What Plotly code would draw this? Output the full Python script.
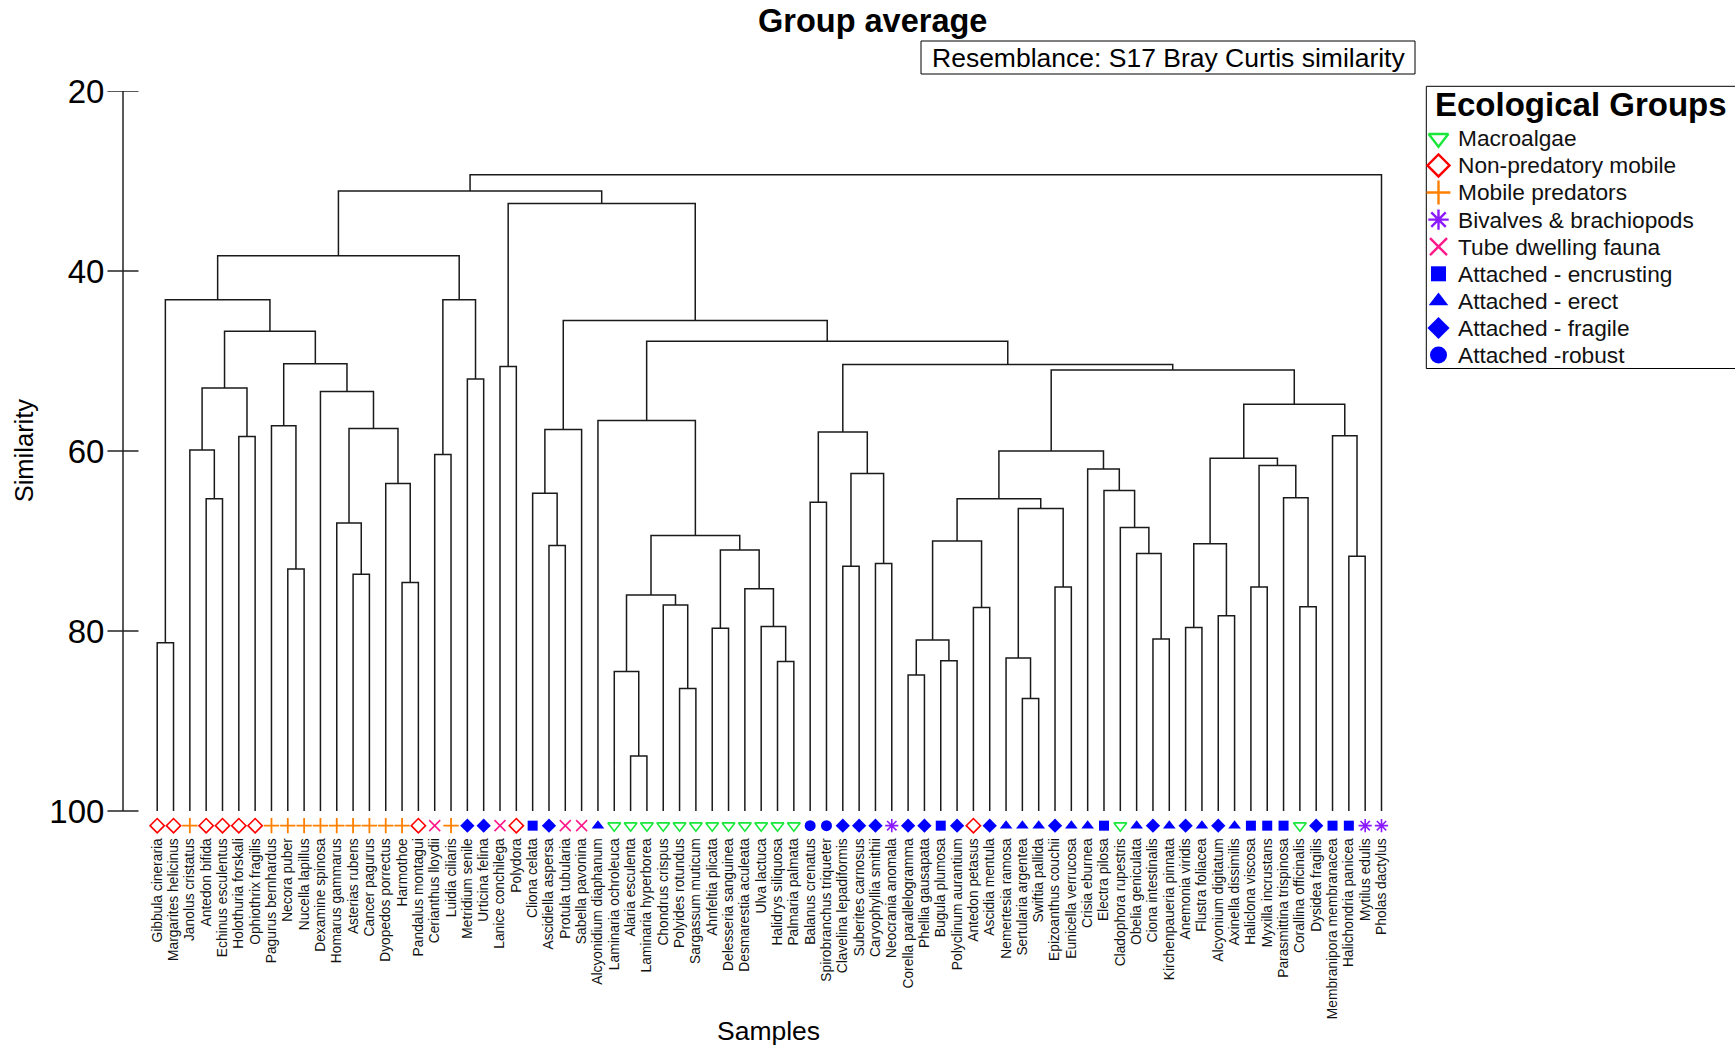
import plotly.graph_objects as go

# ---------------- data ----------------
leaf_names = [
    "Gibbula cineraria", "Margarites helicinus", "Janolus cristatus", "Antedon bifida",
    "Echinus esculentus", "Holothuria forskali", "Ophiothrix fragilis", "Pagurus bernhardus",
    "Necora puber", "Nucella lapillus", "Dexamine spinosa", "Homarus gammarus",
    "Asterias rubens", "Cancer pagurus", "Dyopedos porrectus", "Harmothoe",
    "Pandalus montagui", "Cerianthus lloydii", "Luidia ciliaris", "Metridium senile",
    "Urticina felina", "Lanice conchilega", "Polydora", "Cliona celata",
    "Ascidiella aspersa", "Protula tubularia", "Sabella pavonina", "Alcyonidium diaphanum",
    "Laminaria ochroleuca", "Alaria esculenta", "Laminaria hyperborea", "Chondrus crispus",
    "Polyides rotundus", "Sargassum muticum", "Ahnfeltia plicata", "Delesseria sanguinea",
    "Desmarestia aculeata", "Ulva lactuca", "Halidrys siliquosa", "Palmaria palmata",
    "Balanus crenatus", "Spirobranchus triqueter", "Clavelina lepadiformis", "Suberites carnosus",
    "Caryophyllia smithii", "Neocrania anomala", "Corella parallelogramma", "Phellia gausapata",
    "Bugula plumosa", "Polyclinum aurantium", "Antedon petasus", "Ascidia mentula",
    "Nemertesia ramosa", "Sertularia argentea", "Swiftia pallida", "Epizoanthus couchii",
    "Eunicella verrucosa", "Crisia eburnea", "Electra pilosa", "Cladophora rupestris",
    "Obelia geniculata", "Ciona intestinalis", "Kirchenpaueria pinnata", "Anemonia viridis",
    "Flustra foliacea", "Alcyonium digitatum", "Axinella dissimilis", "Haliclona viscosa",
    "Myxilla incrustans", "Parasmittina trispinosa", "Corallina officinalis", "Dysidea fragilis",
    "Membranipora membranacea", "Halichondria panicea", "Mytilus edulis", "Pholas dactylus",
]

# group code per leaf: MA macroalgae, NP non-predatory mobile, MP mobile predators,
# BB bivalves, TD tube dwelling, EN encrusting, ER erect, FR fragile, RO robust
leaf_groups = [
    "NP", "NP", "MP", "NP", "NP", "NP", "NP", "MP", "MP", "MP", "MP", "MP", "MP", "MP", "MP", "MP",
    "NP", "TD", "MP", "FR", "FR", "TD", "NP", "EN", "FR", "TD", "TD", "ER",
    "MA", "MA", "MA", "MA", "MA", "MA", "MA", "MA", "MA", "MA", "MA", "MA",
    "RO", "RO", "FR", "FR", "FR", "BB", "FR", "FR", "EN", "FR", "NP", "FR",
    "ER", "ER", "ER", "FR", "ER", "ER", "EN", "MA", "ER", "FR", "ER", "FR",
    "ER", "FR", "ER", "EN", "EN", "EN", "MA", "FR", "EN", "EN", "BB", "BB",
]

# merges: (name, left, right, similarity); ints = leaf number (1-based), str = earlier merge
merges = [
    ("m1", 1, 2, 81.3), ("m2", 4, 5, 65.3), ("m3", 3, "m2", 59.9), ("m4", 6, 7, 58.4),
    ("m5", "m3", "m4", 53.0), ("m6", 9, 10, 73.1), ("m7", 8, "m6", 57.2), ("m8", 13, 14, 73.7),
    ("m9", 12, "m8", 68.0), ("m10", 16, 17, 74.6), ("m11", 15, "m10", 63.6),
    ("m12", "m9", "m11", 57.5), ("m13", 11, "m12", 53.4), ("m14", "m7", "m13", 50.3),
    ("m15", "m5", "m14", 46.7), ("m16", "m1", "m15", 43.2), ("m17", 18, 19, 60.4),
    ("m18", 20, 21, 52.0), ("m19", "m17", "m18", 43.2), ("m20", "m16", "m19", 38.3),
    ("m21", 22, 23, 50.6), ("m22", 25, 26, 70.5), ("m23", 24, "m22", 64.7),
    ("m24", "m23", 27, 57.6), ("m25", 30, 31, 93.9), ("m26", 29, "m25", 84.5),
    ("m27", 33, 34, 86.4), ("m28", 32, "m27", 77.1), ("m29", "m26", "m28", 76.0),
    ("m30", 35, 36, 79.7), ("m31", 39, 40, 83.4), ("m32", 38, "m31", 79.5),
    ("m33", 37, "m32", 75.3), ("m34", "m30", "m33", 71.0), ("m35", "m29", "m34", 69.4),
    ("m36", 28, "m35", 56.6), ("m37", 41, 42, 65.7), ("m38", 43, 44, 72.8),
    ("m39", 45, 46, 72.5), ("m40", "m38", "m39", 62.5), ("m41", "m37", "m40", 57.9),
    ("m42", 47, 48, 84.9), ("m43", 49, 50, 83.3), ("m44", "m42", "m43", 81.0),
    ("m45", 51, 52, 77.4), ("m46", "m44", "m45", 70.0), ("m47", 54, 55, 87.5),
    ("m48", 53, "m47", 83.0), ("m49", 56, 57, 75.1), ("m50", "m48", "m49", 66.4),
    ("m51", "m46", "m50", 65.3), ("m52", 62, 63, 80.9), ("m53", 61, "m52", 71.4),
    ("m54", 60, "m53", 68.5), ("m55", 59, "m54", 64.4), ("m56", 58, "m55", 62.0),
    ("m57", "m51", "m56", 60.0), ("m58", 64, 65, 79.6), ("m59", 66, 67, 78.3),
    ("m60", "m58", "m59", 70.3), ("m61", 68, 69, 75.1), ("m62", 71, 72, 77.3),
    ("m63", 70, "m62", 65.2), ("m64", "m61", "m63", 61.6), ("m65", "m60", "m64", 60.8),
    ("m66", 74, 75, 71.7), ("m67", 73, "m66", 58.3), ("m68", "m65", "m67", 54.8),
    ("m69", "m57", "m68", 51.0), ("m70", "m41", "m69", 50.4), ("m71", "m36", "m70", 47.8),
    ("m72", "m24", "m71", 45.5), ("m73", "m21", "m72", 32.5), ("m74", "m20", "m73", 31.1),
    ("m75", "m74", 76, 29.3),
]

group_codes = ["MA", "NP", "MP", "BB", "TD", "EN", "ER", "FR", "RO"]
group_labels = ["Macroalgae", "Non-predatory mobile", "Mobile predators", "Bivalves & brachiopods",
                "Tube dwelling fauna", "Attached - encrusting", "Attached - erect",
                "Attached - fragile", "Attached -robust"]
y_ticks = [20, 40, 60, 80, 100]

# ---------------- styles ----------------
styles = {
    "MA": dict(symbol="triangle-down-open", color="#19e83a", lw=1.6),
    "NP": dict(symbol="diamond-open", color="#ff0000", lw=1.6),
    "MP": dict(symbol="cross-thin-open", color="#ff8000", lw=1.8),
    "BB": dict(symbol="asterisk-open", color="#8c1aff", lw=1.6),
    "TD": dict(symbol="x-thin-open", color="#ff1a8c", lw=1.6),
    "EN": dict(symbol="square", color="#0000ff", lw=0),
    "ER": dict(symbol="triangle-up", color="#0000ff", lw=0),
    "FR": dict(symbol="diamond", color="#0000ff", lw=0),
    "RO": dict(symbol="circle", color="#0000ff", lw=0),
}
FONT = "Liberation Sans, Arial, sans-serif"

# page geometry (page pixels; body margin is removed by the post script)
W, H, OFF = 1735, 1049, 0


def fx(xpage):
    return (xpage - OFF) / W


def fy(ypage):
    return (H - (ypage - OFF)) / H


AX_X = 123            # y-axis line
LEAF1_X, LEAFN_X = 157.2, 1381.5
PLOT_RIGHT = 1400
Y20, Y100 = 91.0, 811.0
ppu = (Y100 - Y20) / 80.0
MARK_Y = 101.63
Y_BOTTOM = 101.75

# ---------------- geometry of tree ----------------
nodes = {i + 1: (float(i + 1), 100.0) for i in range(len(leaf_names))}
lx, ly = [], []
for name, a, b, s in merges:
    xa, ya = nodes[a]
    xb, yb = nodes[b]
    lx += [xa, xa, xb, xb, None]
    ly += [ya, s, s, yb, None]
    nodes[name] = ((xa + xb) / 2.0, s)

fig = go.Figure()
fig.add_trace(go.Scatter(x=lx, y=ly, mode="lines", line=dict(color="#1a1a1a", width=1.5),
                         showlegend=False, hoverinfo="skip", cliponaxis=False))

# leaf markers
for code in group_codes:
    xs = [i + 1 for i, g in enumerate(leaf_groups) if g == code]
    st = styles[code]
    size = 10 if code == "EN" else 11
    fig.add_trace(go.Scatter(
        x=xs, y=[MARK_Y] * len(xs), mode="markers", showlegend=False, cliponaxis=False,
        marker=dict(symbol=st["symbol"], size=size, color=st["color"],
                    line=dict(color=st["color"], width=st["lw"])),
        hovertext=[leaf_names[x - 1] for x in xs], hoverinfo="text"))

# manual legend (on its own hidden axes)
LEG_L, LEG_T, LEG_B = 1426.3, 86.3, 368.5
LEG_ITEM0, LEG_STEP = 138.3, 27.1
SYM_X, TXT_X = 1438.5, 1456
for k, code in enumerate(group_codes):
    st = styles[code]
    size = 15 if code == "EN" else 17
    fig.add_trace(go.Scatter(
        x=[SYM_X], y=[LEG_ITEM0 + LEG_STEP * k], xaxis="x2", yaxis="y2", mode="markers",
        showlegend=False, hoverinfo="skip", cliponaxis=False,
        marker=dict(symbol=st["symbol"], size=size, color=st["color"],
                    line=dict(color=st["color"], width=(2.4 if st["lw"] else 0)))))

# ---------------- layout ----------------
px_per = (LEAFN_X - LEAF1_X) / 75.0
x0 = 1 - (LEAF1_X - AX_X) / px_per
x1 = 1 + (PLOT_RIGHT - LEAF1_X) / px_per
y_bottom_page = Y20 + (Y_BOTTOM - 20) * ppu

fig.update_layout(
    width=W, height=H,
    margin=dict(l=0, r=0, t=0, b=0, autoexpand=False),
    plot_bgcolor="rgba(0,0,0,0)", paper_bgcolor="white",
    font=dict(family=FONT, color="black"),
    showlegend=False,
    xaxis=dict(domain=[fx(AX_X), fx(PLOT_RIGHT)], range=[x0, x1], showgrid=False,
               zeroline=False, showline=False,
               tickvals=list(range(1, len(leaf_names) + 1)), ticktext=leaf_names,
               tickangle=-90, tickfont=dict(size=13.8, family=FONT, color="#111111"),
               ticks="outside", ticklen=5, tickcolor="rgba(0,0,0,0)"),
    yaxis=dict(domain=[fy(y_bottom_page), fy(Y20)], range=[Y_BOTTOM, 20], showgrid=False,
               zeroline=False, showline=False, tickvals=y_ticks,
               ticktext=[str(v) for v in y_ticks], ticks="outside", ticklen=11,
               tickcolor="rgba(0,0,0,0)",
               tickfont=dict(size=33, family=FONT, color="black")),
    xaxis2=dict(domain=[fx(LEG_L), 1.0], range=[LEG_L, OFF + W], visible=False,
                anchor="y2", fixedrange=True),
    yaxis2=dict(domain=[fy(LEG_B), fy(LEG_T)], range=[LEG_B, LEG_T], visible=False,
                anchor="x2", fixedrange=True),
)

shapes = []
shapes.append(dict(type="line", xref="paper", yref="y", x0=fx(AX_X), x1=fx(AX_X), y0=20, y1=100,
                   line=dict(color="#222222", width=1.5)))
for v in y_ticks:
    shapes.append(dict(type="line", xref="paper", yref="y", x0=fx(AX_X - 15.5),
                       x1=fx(AX_X + 15.5), y0=v, y1=v, line=dict(color="#222222", width=1.5)))
shapes.append(dict(type="rect", xref="paper", yref="paper", x0=fx(921), x1=fx(1415),
                   y0=fy(74), y1=fy(41), line=dict(color="black", width=1), fillcolor="white",
                   layer="below"))
shapes.append(dict(type="rect", xref="paper", yref="paper", x0=fx(LEG_L), x1=fx(1760),
                   y0=fy(LEG_B), y1=fy(LEG_T), line=dict(color="black", width=1),
                   fillcolor="white", layer="below"))
fig.update_layout(shapes=shapes)

fig.add_annotation(text="<b>Group average</b>", xref="paper", yref="paper", x=fx(872.5),
                   y=fy(21), showarrow=False, xanchor="center", yanchor="middle",
                   font=dict(size=32.5, family=FONT, color="black"))
fig.add_annotation(text="Resemblance: S17 Bray Curtis similarity", xref="paper", yref="paper",
                   x=fx(1168), y=fy(57.5), showarrow=False, xanchor="center", yanchor="middle",
                   font=dict(size=26.5, family=FONT, color="black"))
fig.add_annotation(text="Similarity", xref="paper", yref="paper", x=fx(24.3), y=fy(450),
                   showarrow=False, textangle=-90, xanchor="center", yanchor="middle",
                   font=dict(size=25.5, family=FONT, color="black"))
fig.add_annotation(text="Samples", xref="paper", yref="paper", x=fx(768), y=fy(1031),
                   showarrow=False, xanchor="center", yanchor="middle",
                   font=dict(size=26.5, family=FONT, color="black"))
fig.add_annotation(text="<b>Ecological Groups</b>", xref="paper", yref="paper", x=fx(1433),
                   y=fy(105), showarrow=False, xanchor="left", yanchor="middle",
                   font=dict(size=33, family=FONT, color="black"))
for k, lab in enumerate(group_labels):
    fig.add_annotation(text=lab, xref="paper", yref="paper", x=fx(TXT_X),
                       y=fy(LEG_ITEM0 + LEG_STEP * k), showarrow=False, xanchor="left",
                       yanchor="middle", font=dict(size=22.7, family=FONT, color="#111111"))

fig.write_html("out.html", config={"displayModeBar": False},
               post_script="document.body.style.margin='0px';document.body.style.overflow='hidden';")
